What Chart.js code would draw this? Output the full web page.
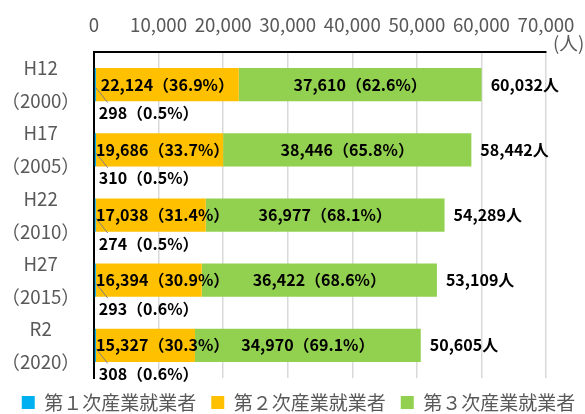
<!DOCTYPE html>
<html><head><meta charset="utf-8">
<script src="https://cdn.jsdelivr.net/npm/chart.js@4/dist/chart.umd.min.js"></script>
<style>html,body{margin:0;padding:0;background:#fff}#wrap{width:585px;height:414px}</style>
</head><body><div id="wrap"><canvas id="c" width="585" height="414"></canvas></div>
<script>
const categories = [['H12','（2000）'],['H17','（2005）'],['H22','（2010）'],['H27','（2015）'],['R2','（2020）']];
const seriesNames = ['第１次産業就業者','第２次産業就業者','第３次産業就業者'];
const primary = [298, 310, 274, 293, 308];
const secondary = [22124, 19686, 17038, 16394, 15327];
const tertiary = [37610, 38446, 36977, 36422, 34970];
const totals = [60032, 58442, 54289, 53109, 50605];
const pctPrimary = [0.5, 0.5, 0.5, 0.6, 0.6];
const pctSecondary = [36.9, 33.7, 31.4, 30.9, 30.3];
const pctTertiary = [62.6, 65.8, 68.1, 68.6, 69.1];
const xTicks = [0, 10000, 20000, 30000, 40000, 50000, 60000, 70000];
const unitLabel = '(人)';

const FONT = '"Noto Sans CJK JP", "Noto Sans", sans-serif';
const fmt = v => v.toLocaleString('en-US');

const labelPlugin = {
  id: 'barLabels',
  afterDatasetsDraw(chart) {
    const ctx = chart.ctx, area = chart.chartArea;
    const m1 = chart.getDatasetMeta(1), m2 = chart.getDatasetMeta(2), m0 = chart.getDatasetMeta(0);
    ctx.save();
    ctx.strokeStyle = '#7f7f7f'; ctx.lineWidth = 1;
    categories.forEach((c, i) => {
      const b = m0.data[i];
      ctx.beginPath();
      ctx.moveTo(b.base + 1, b.y + 3);
      ctx.lineTo(b.base + 13, b.y + 18);
      ctx.stroke();
    });
    ctx.font = 'bold 16px ' + FONT;
    ctx.fillStyle = '#000';
    ctx.textBaseline = 'middle';
    categories.forEach((c, i) => {
      const b0 = m0.data[i], b1 = m1.data[i], b2 = m2.data[i];
      const y = b1.y;
      let t = fmt(secondary[i]) + '（' + pctSecondary[i].toFixed(1) + '%）';
      let w = ctx.measureText(t).width;
      let cx = Math.max((b1.x + b1.base) / 2, area.left + 2 + w / 2);
      ctx.textAlign = 'center';
      ctx.fillText(t, cx, y);
      t = fmt(tertiary[i]) + '（' + pctTertiary[i].toFixed(1) + '%）';
      ctx.fillText(t, (b2.x + b2.base) / 2, y);
      ctx.textAlign = 'left';
      ctx.fillText(fmt(totals[i]) + '人', b2.x + 9, y);
      t = fmt(primary[i]) + '（' + pctPrimary[i].toFixed(1) + '%）';
      ctx.fillText(t, b0.base + 4, y + 28.5);
    });
    ctx.font = '18.67px ' + FONT;
    ctx.fillStyle = '#595959';
    ctx.textAlign = 'left';
    ctx.fillText(unitLabel, area.right + 7, area.top - 9);
    ctx.restore();
  }
};

new Chart(document.getElementById('c'), {
  type: 'bar',
  data: {
    labels: categories,
    datasets: [
      {label: seriesNames[0], data: primary, backgroundColor: '#00B0F0', borderWidth: 0},
      {label: seriesNames[1], data: secondary, backgroundColor: '#FFC000', borderWidth: 0},
      {label: seriesNames[2], data: tertiary, backgroundColor: '#92D050', borderWidth: 0}
    ]
  },
  options: {
    indexAxis: 'y',
    responsive: false,
    animation: false,
    devicePixelRatio: 1,
    layout: {padding: {top: -1.6, left: 6, right: -6, bottom: -8}},
    datasets: {bar: {barPercentage: 0.51, categoryPercentage: 1}},
    scales: {
      x: {
        position: 'top', stacked: true, min: 0, max: 70000,
        afterBuildTicks: s => { s.ticks = xTicks.map(v => ({value: v})); },
        afterFit: s => { s.paddingRight = 39; },
        grid: {color: '#d9d9d9', lineWidth: 1.5, drawTicks: false},
        border: {display: true, color: '#000', width: 2},
        ticks: {autoSkip: false, maxRotation: 0, padding: 15.6, color: '#595959',
          font: {family: FONT, size: 18.67}, callback: v => fmt(v)}
      },
      y: {
        stacked: true,
        afterFit: s => { s.width = 88; s.paddingTop = 0; s.paddingBottom = 0; },
        grid: {display: false, drawTicks: false},
        border: {display: true, color: '#000', width: 2},
        ticks: {autoSkip: false, crossAlign: 'center', padding: 14, color: '#595959',
          font: {family: FONT, size: 18.67, lineHeight: 1.768}}
      }
    },
    plugins: {
      legend: {position: 'bottom',
        labels: {boxWidth: 13, boxHeight: 13, padding: 15, color: '#595959',
          font: {family: FONT, size: 19}}},
      tooltip: {enabled: false}
    }
  },
  plugins: [labelPlugin]
});
</script></body></html>
